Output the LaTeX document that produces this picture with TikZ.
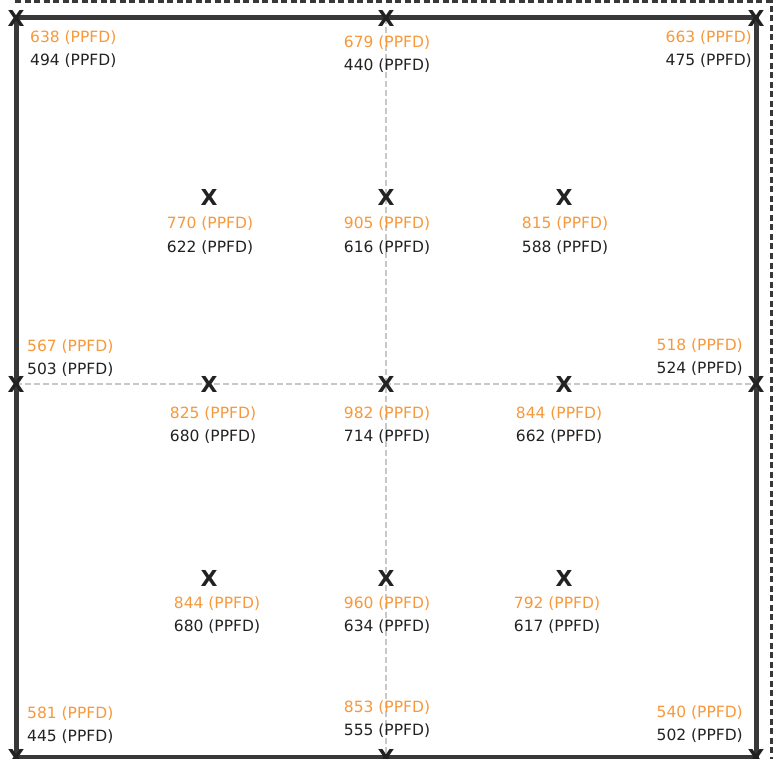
\documentclass[tikz,border=0pt]{standalone}
\usepackage{fontspec}
\setmainfont{DejaVu Sans}
\usepackage{tikz}
\usetikzlibrary{calc}
\definecolor{ppfdorange}{HTML}{F7983A}
\definecolor{ppfdblack}{HTML}{222222}
\definecolor{framegray}{HTML}{383838}
\definecolor{gridgray}{HTML}{C8C8C8}
\tikzset{
  frameline/.style={line width=5pt, draw=framegray},
  gridline/.style={line width=1.3pt, draw=gridgray, dash pattern=on 6pt off 3pt},
  outline/.style={line width=3pt, draw=framegray, dash pattern=on 6pt off 3.5pt},
  pointmark/.style={inner sep=0pt, text=ppfdblack, font=\fontsize{22}{22}\selectfont\bfseries},
  reading/.style={inner sep=0pt, font=\fontsize{15.5}{18}\selectfont}
}
% two readings per point: orange over black
\newcommand{\readout}[6]{%
  \node[reading, text=ppfdorange, anchor=#2] (#1top) at (#3,#4) {#5 (PPFD)};
  \node[reading, text=ppfdblack, anchor=#2] (#1bot) at ([yshift=-23pt]#1top.#2) {#6 (PPFD)};
}

\begin{document}
\begin{tikzpicture}[x=1pt, y=-1pt]
  \useasboundingbox (0,0) rectangle (773,759);

  % corners of the square
  \coordinate (nw) at (16,18);
  \coordinate (ne) at (756,18);
  \coordinate (se) at (756,757);
  \coordinate (sw) at (16,757);
  \coordinate (n) at (386,18);
  \coordinate (s) at (386,757);
  \coordinate (w) at (16,384);
  \coordinate (e) at (756,384);

  % dashed shadow of the frame
  \coordinate (shadowa) at (15,2);
  \coordinate (shadowb) at (771,2);
  \coordinate (shadowc) at (771,759);
  \draw[outline] (shadowa) -- (shadowb) -- (shadowc);

  % centre lines
  \draw[gridline] (n) -- (s);
  \draw[gridline] (w) -- (e);

  % frame
  \draw[frameline] (nw) -- (ne) -- (se) -- (sw) -- cycle;

  % measuring points
  \foreach \name/\x/\y in {
    p11/16/18, p12/386/18, p13/756/18,
    p21/209/197, p22/386/197, p23/564/197,
    p31/16/384, p32/209/384, p33/386/384, p34/564/384, p35/756/384,
    p41/209/578, p42/386/578, p43/564/578,
    p51/16/757, p52/386/757, p53/756/757
  }{
    \node[pointmark] (\name) at (\x,\y) {X};
  }

  % readings
  \readout{rtl}{base west}{30}{43}{638}{494}
  \readout{rtc}{base}{387}{48}{679}{440}
  \readout{rtr}{base east}{752}{43}{663}{475}

  \readout{raa}{base}{210}{229}{770}{622}
  \readout{rab}{base}{387}{229}{905}{616}
  \readout{rac}{base}{565}{229}{815}{588}

  \readout{rml}{base west}{27}{351}{567}{503}
  \readout{rmr}{base east}{743}{350}{518}{524}

  \readout{rba}{base}{213}{418}{825}{680}
  \readout{rbb}{base}{387}{418}{982}{714}
  \readout{rbc}{base}{559}{418}{844}{662}

  \readout{rca}{base}{217}{608}{844}{680}
  \readout{rcb}{base}{387}{608}{960}{634}
  \readout{rcc}{base}{557}{608}{792}{617}

  \readout{rbl}{base west}{27}{718}{581}{445}
  \readout{rbm}{base}{387}{712}{853}{555}
  \readout{rbr}{base east}{743}{717}{540}{502}
\end{tikzpicture}
\end{document}
